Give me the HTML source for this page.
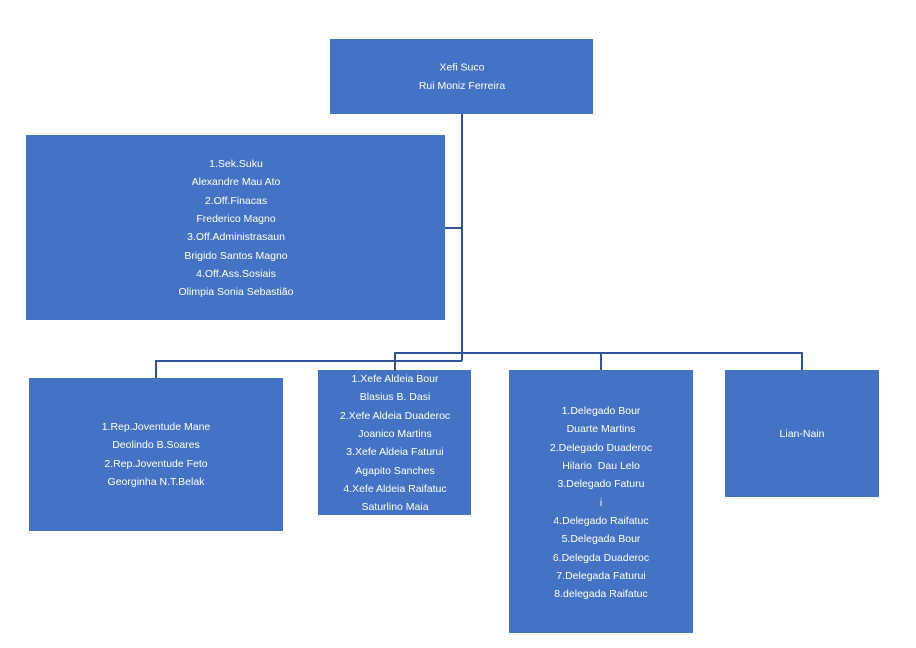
<!DOCTYPE html>
<html><head><meta charset="utf-8"><style>
html,body{margin:0;padding:0;background:#fff;}
svg{display:block;}
text{font-family:"Liberation Sans",sans-serif;font-size:10.5px;fill:#fff;text-anchor:middle;}
</style></head><body>
<svg width="916" height="648" viewBox="0 0 916 648" xmlns="http://www.w3.org/2000/svg">
<g fill="#4472C4">
<rect x="330" y="39" width="263" height="75"/>
<rect x="26" y="135" width="419" height="185"/>
<rect x="29" y="378" width="254" height="153"/>
<rect x="318" y="370" width="153" height="145"/>
<rect x="509" y="370" width="184" height="263"/>
<rect x="725" y="370" width="154" height="127"/>
</g>
<g stroke="#2F5597" stroke-width="2" fill="none">
<line x1="462" y1="114" x2="462" y2="361"/>
<line x1="445" y1="228" x2="462" y2="228"/>
<polyline points="156,378 156,361 462,361"/>
<polyline points="395,370 395,353 802,353 802,370"/>
<line x1="601" y1="353" x2="601" y2="370"/>
</g>
<g>
<text x="462" y="70.5">Xefi Suco</text>
<text x="462" y="89">Rui Moniz Ferreira</text>

<text x="236" y="167">1.Sek.Suku</text>
<text x="236" y="185">Alexandre Mau Ato</text>
<text x="236" y="204">2.Off.Finacas</text>
<text x="236" y="222">Frederico Magno</text>
<text x="236" y="240">3.Off.Administrasaun</text>
<text x="236" y="259">Brigido Santos Magno</text>
<text x="236" y="277">4.Off.Ass.Sosiais</text>
<text x="236" y="295">Olimpia Sonia Sebastião</text>

<text x="156" y="430">1.Rep.Joventude Mane</text>
<text x="156" y="448">Deolindo B.Soares</text>
<text x="156" y="467">2.Rep.Joventude Feto</text>
<text x="156" y="485">Georginha N.T.Belak</text>

<text x="395" y="382">1.Xefe Aldeia Bour</text>
<text x="395" y="400">Blasius B. Dasi</text>
<text x="395" y="419">2.Xefe Aldeia Duaderoc</text>
<text x="395" y="437">Joanico Martins</text>
<text x="395" y="455">3.Xefe Aldeia Faturui</text>
<text x="395" y="474">Agapito Sanches</text>
<text x="395" y="492">4.Xefe Aldeia Raifatuc</text>
<text x="395" y="510">Saturlino Maia</text>

<text x="601" y="414">1.Delegado Bour</text>
<text x="601" y="432">Duarte Martins</text>
<text x="601" y="451">2.Delegado Duaderoc</text>
<text x="601" y="469">Hilario&#160; Dau Lelo</text>
<text x="601" y="487">3.Delegado Faturu</text>
<text x="601" y="506">i</text>
<text x="601" y="524">4.Delegado Raifatuc</text>
<text x="601" y="542">5.Delegada Bour</text>
<text x="601" y="561">6.Delegda Duaderoc</text>
<text x="601" y="579">7.Delegada Faturui</text>
<text x="601" y="597">8.delegada Raifatuc</text>

<text x="802" y="437">Lian-Nain</text>
</g>
</svg>
</body></html>
